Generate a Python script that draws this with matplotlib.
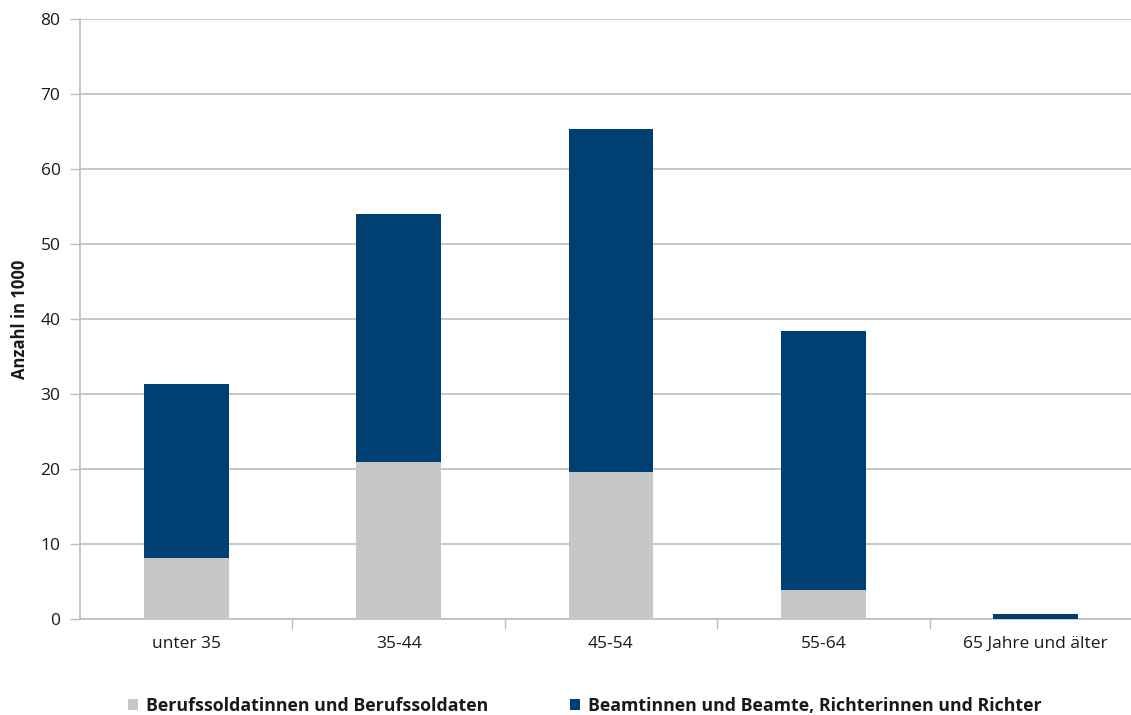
import matplotlib
matplotlib.use("Agg")
import matplotlib.pyplot as plt
from matplotlib.patches import Patch
from matplotlib.ticker import FixedLocator, NullFormatter

plt.rcParams['font.family'] = ['Open Sans', 'DejaVu Sans']

categories = ["unter 35", "35-44", "45-54", "55-64", "65 Jahre und älter"]
soldaten = [8.2, 21.0, 19.6, 3.9, 0.0]
beamte_total = [31.4, 54.0, 65.4, 38.4, 0.7]
beamte = [t - s for t, s in zip(beamte_total, soldaten)]
series_labels = ["Berufssoldatinnen und Berufssoldaten",
                 "Beamtinnen und Beamte, Richterinnen und Richter"]

GRAY = "#c6c7c7"
NAVY = "#003f72"
GRID = "#bdbdbd"
TEXT = "#1a1a1a"

fig = plt.figure(figsize=(11.31, 7.15), dpi=100)
ax = fig.add_axes([80 / 1131, 1 - 619.3 / 715, 1062 / 1131, 600.3 / 715])

x = list(range(len(categories)))
ax.bar(x, soldaten, width=0.4, color=GRAY, zorder=3)
ax.bar(x, beamte, width=0.4, bottom=soldaten, color=NAVY, zorder=3)

ax.set_xlim(-0.5, len(categories) - 0.5)
ax.set_ylim(0, 80)
ax.set_yticks(range(0, 81, 10))
ax.yaxis.grid(True, color=GRID, linewidth=1.2, zorder=0)
ax.set_axisbelow(True)

ax.set_xticks(x)
ax.set_xticklabels(categories)
ax.tick_params(axis='x', which='major', length=0, pad=12, labelsize=12.5, labelcolor=TEXT)
ax.xaxis.set_minor_locator(FixedLocator([i + 0.5 for i in range(len(categories) - 1)]))
ax.xaxis.set_minor_formatter(NullFormatter())
ax.tick_params(axis='x', which='minor', length=7, width=1, color=GRID, direction='out')
ax.tick_params(axis='y', length=7, width=1, color=GRID, pad=7, labelsize=12.5, labelcolor=TEXT)

for side in ('top', 'right'):
    ax.spines[side].set_visible(False)
for side in ('left', 'bottom'):
    ax.spines[side].set_color(GRID)
    ax.spines[side].set_linewidth(1.2)

ax.set_ylabel("Anzahl in 1000", fontsize=12, fontweight='bold', color=TEXT, labelpad=8)

handles = [Patch(facecolor=GRAY, edgecolor='none'), Patch(facecolor=NAVY, edgecolor='none')]
leg = fig.legend(handles, series_labels, loc='lower left', bbox_to_anchor=(112 / 1131, -0.022),
                 ncol=2, frameon=False, handlelength=0.55, handleheight=0.55,
                 handletextpad=0.45, columnspacing=4.6,
                 prop={'size': 12.8, 'weight': 'bold'})
for t in leg.get_texts():
    t.set_color(TEXT)

fig.savefig("out.png", dpi=100)
